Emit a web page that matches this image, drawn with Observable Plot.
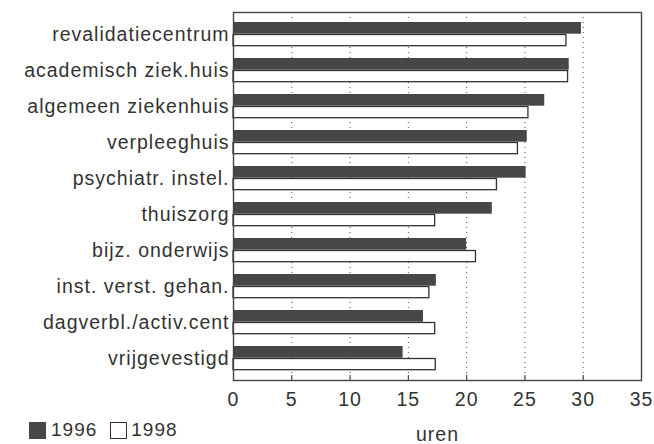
<!DOCTYPE html>
<html><head><meta charset="utf-8">
<script src="https://cdn.jsdelivr.net/npm/d3@7"></script>
<script src="https://cdn.jsdelivr.net/npm/@observablehq/plot@0.6"></script>
<style>
body{margin:0;background:#fff;font-family:"Liberation Sans",Arial,sans-serif;}
#wrap{position:relative;width:654px;height:444px;}
.legend{position:absolute;left:29px;top:421px;font-size:19px;letter-spacing:1px;color:#333;display:flex;align-items:center;line-height:18px;}
.sw{display:inline-block;width:17px;height:17px;box-sizing:border-box;}
</style></head><body><div id="wrap"></div>
<script>
const categories = ["revalidatiecentrum","academisch ziek.huis","algemeen ziekenhuis","verpleeghuis","psychiatr. instel.","thuiszorg","bijz. onderwijs","inst. verst. gehan.","dagverbl./activ.cent","vrijgevestigd"];
const values1996 = [29.85, 28.8, 26.7, 25.2, 25.1, 22.2, 20.0, 17.4, 16.3, 14.55];
const values1998 = [28.56, 28.7, 25.3, 24.4, 22.6, 17.3, 20.8, 16.8, 17.3, 17.35];
const years = ["1996", "1998"];
const xTicks = [0, 5, 10, 15, 20, 25, 30, 35];
const gridTicks = [5, 10, 15, 20, 25, 30];
const xLabel = "uren";

const d96 = categories.map((c, i) => ({category: c, value: values1996[i]}));
const d98 = categories.map((c, i) => ({category: c, value: values1998[i]}));

const chart = Plot.plot({
  width: 654, height: 444,
  marginLeft: 233, marginRight: 13, marginTop: 12, marginBottom: 64,
  style: {fontFamily: '"Liberation Sans", Arial, sans-serif', fontSize: "19.5px", color: "#333", letterSpacing: "1px", background: "white"},
  x: {domain: [0, 35]},
  y: {domain: categories, padding: 0},
  marks: [
    Plot.gridX(gridTicks, {stroke: "#222", strokeOpacity: 0.8, strokeDasharray: "1,4"}),
    Plot.barX(d96, {x: "value", y: "category", fill: "#474747", insetTop: 6, insetBottom: 18.3}),
    Plot.barX(d98, {x: "value", y: "category", fill: "white", stroke: "#333", strokeWidth: 1.3, insetTop: 18.5, insetBottom: 6.3}),
    Plot.frame({stroke: "#444", strokeWidth: 1.4}),
    Plot.axisY({tickSize: 0, tickPadding: 4, label: null}),
    Plot.axisX(gridTicks, {tickSize: -5, tickFormat: () => "", label: null, stroke: "#333"}),
    Plot.axisX(xTicks, {tickSize: 0, tickPadding: 12, label: xLabel, labelAnchor: "center", labelArrow: "none", labelOffset: 60})
  ]
});
const wrap = document.getElementById("wrap");
wrap.appendChild(chart);
const legend = document.createElement("div");
legend.className = "legend";
legend.innerHTML = `<span class="sw" style="background:#474747"></span><span style="margin-left:5px">${years[0]}</span>` +
  `<span class="sw" style="background:white;border:1.3px solid #333;margin-left:13px"></span><span style="margin-left:4px">${years[1]}</span>`;
wrap.appendChild(legend);
</script>
</body></html>
